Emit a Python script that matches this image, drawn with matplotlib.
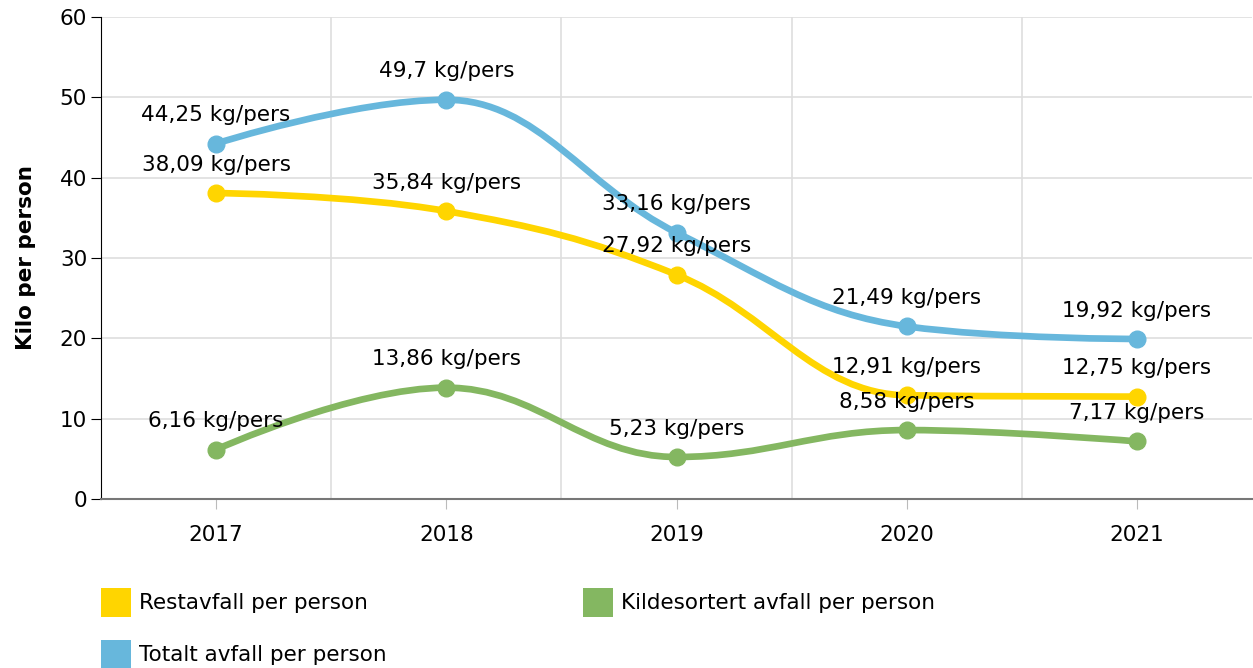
import matplotlib.pyplot as plt
import numpy as np
from matplotlib.path import Path
from matplotlib.patches import PathPatch, Rectangle

years = ["2017", "2018", "2019", "2020", "2021"]
restavfall = [38.09, 35.84, 27.92, 12.91, 12.75]
totalt = [44.25, 49.7, 33.16, 21.49, 19.92]
kildesortert = [6.16, 13.86, 5.23, 8.58, 7.17]

series = [
    ("Restavfall per person", restavfall, "#ffd500"),
    ("Totalt avfall per person", totalt, "#67b7dc"),
    ("Kildesortert avfall per person", kildesortert, "#84b761"),
]


def spline_path(xs, ys, smoothing=1.5):
    # highcharts-like spline: bezier segments, no false extremes
    denom = smoothing + 1
    n = len(xs)
    conts = []
    for i in range(n):
        if i == 0 or i == n - 1:
            conts.append((xs[i], ys[i], xs[i], ys[i]))
            continue
        px, py = xs[i], ys[i]
        lx, ly = xs[i - 1], ys[i - 1]
        nx, ny = xs[i + 1], ys[i + 1]
        lcx = (smoothing * px + lx) / denom
        lcy = (smoothing * py + ly) / denom
        rcx = (smoothing * px + nx) / denom
        rcy = (smoothing * py + ny) / denom
        corr = 0
        if rcx != lcx:
            corr = (rcy - lcy) * (rcx - px) / (rcx - lcx) + py - rcy
        lcy += corr
        rcy += corr
        if lcy > ly and lcy > py:
            lcy = max(ly, py)
            rcy = 2 * py - lcy
        elif lcy < ly and lcy < py:
            lcy = min(ly, py)
            rcy = 2 * py - lcy
        if rcy > ny and rcy > py:
            rcy = max(ny, py)
            lcy = 2 * py - rcy
        elif rcy < ny and rcy < py:
            rcy = min(ny, py)
            lcy = 2 * py - rcy
        conts.append((lcx, lcy, rcx, rcy))
    verts = [(xs[0], ys[0])]
    codes = [Path.MOVETO]
    for i in range(1, n):
        verts += [(conts[i - 1][2], conts[i - 1][3]), (conts[i][0], conts[i][1]), (xs[i], ys[i])]
        codes += [Path.CURVE4] * 3
    return Path(verts, codes)


fig = plt.figure(figsize=(12.53, 6.68), dpi=100)
ax = fig.add_axes([101 / 1253, 1 - 499 / 668, 1151 / 1253, 482 / 668])

x = np.arange(len(years))
for name, vals, col in series:
    ax.add_patch(PathPatch(spline_path(x, vals), facecolor="none", edgecolor=col,
                           lw=4.8, capstyle="round", joinstyle="round", zorder=3))
    ax.plot(x, vals, "o", color=col, ms=12, zorder=4)
    for xi, v in zip(x, vals):
        ax.annotate(f"{v:g}".replace(".", ",") + " kg/pers", (xi, v), xytext=(0, 20.5),
                    textcoords="offset points", ha="center", va="center",
                    fontsize=15.5, color="#000000", zorder=5)

ax.set_xlim(-0.5, len(years) - 0.5)
ax.set_ylim(0, 60)
ax.set_yticks(range(0, 61, 10))
ax.set_xticks(x)
ax.set_xticklabels(years)
ax.set_xticks(x[:-1] + 0.5, minor=True)
ax.grid(True, which="minor", axis="x", color="#dedede", lw=1.2)
ax.grid(True, which="major", axis="y", color="#dedede", lw=1.2)
ax.set_axisbelow(True)
ax.tick_params(axis="x", which="major", length=7, color="#bbbbbb", labelsize=15.5, pad=12)
ax.tick_params(axis="x", which="minor", length=0)
ax.tick_params(axis="y", length=7, color="#000000", labelsize=15.5, pad=3)
for s in ["top", "right"]:
    ax.spines[s].set_visible(False)
ax.spines["left"].set_color("#000000")
ax.spines["bottom"].set_color("#777777")
ax.spines["bottom"].set_linewidth(1.5)
ax.set_ylabel("Kilo per person", fontsize=15.5, fontweight="bold", labelpad=17)

# legend drawn by hand
leg = [(series[0], 101, 588), (series[2], 583, 588), (series[1], 101, 640)]
for (name, _, col), lx, ly in leg:
    fig.patches.append(Rectangle((lx / 1253, 1 - (ly + 29) / 668), 30 / 1253, 29 / 668,
                                 transform=fig.transFigure, facecolor=col, edgecolor="none"))
    fig.text((lx + 38) / 1253, 1 - (ly + 15) / 668, name, fontsize=15.5, va="center", ha="left")

fig.savefig("out.png", dpi=100)
